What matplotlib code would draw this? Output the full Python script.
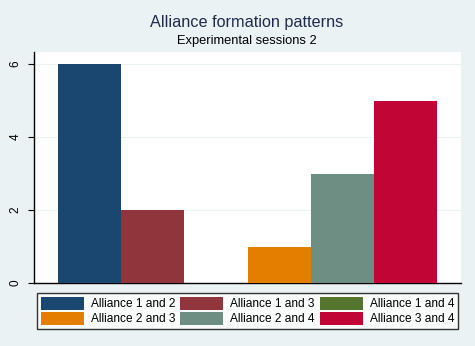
import matplotlib
matplotlib.use("Agg")
import matplotlib.pyplot as plt

plt.rcParams["font.family"] = ["Liberation Sans", "DejaVu Sans"]

BG = "#eaf2f3"

labels = ["Alliance 1 and 2", "Alliance 1 and 3", "Alliance 1 and 4",
          "Alliance 2 and 3", "Alliance 2 and 4", "Alliance 3 and 4"]
counts = [6, 2, 0, 1, 3, 5]
colors = ["#1a476f", "#90353b", "#55752f", "#e37e00", "#6e8e84", "#c10534"]

fig = plt.figure(figsize=(4.75, 3.46), dpi=100)
fig.patch.set_facecolor(BG)
ax = fig.add_axes([34 / 475, 1 - 283 / 346, 427 / 475, 231 / 346])
ax.set_facecolor("white")

handles = []
for i, (lbl, val, col) in enumerate(zip(labels, counts, colors)):
    h = ax.bar(i + 0.5, val, 1.0, color=col, label=lbl, zorder=3)
    handles.append(h)

ax.set_xlim(-0.38, 6.38)
ax.set_ylim(0, 6.33)
ax.set_yticks([0, 2, 4, 6])
ax.set_yticklabels(["0", "2", "4", "6"], rotation=90, va="center", fontsize=8.5)
ax.set_xticks([])
ax.grid(axis="y", color=BG, linewidth=0.8, zorder=0)
ax.tick_params(axis="y", length=4, width=0.8, pad=5)
for s in ["top", "right"]:
    ax.spines[s].set_visible(False)
for s in ["left", "bottom"]:
    ax.spines[s].set_linewidth(1.0)
    ax.spines[s].set_color("black")

fig.text(247 / 475, 1 - 22 / 346, "Alliance formation patterns", ha="center", va="center",
         fontsize=11.7, color="#1e2b4a")
fig.text(247 / 475, 1 - 41 / 346, "Experimental sessions 2", ha="center", va="center",
         fontsize=9.3, color="black")

# row-wise legend order (matplotlib fills columns first)
order = [0, 3, 1, 4, 2, 5]
leg = fig.legend(handles=[handles[k] for k in order], labels=[labels[k] for k in order],
                 ncol=3, loc="lower left",
                 bbox_to_anchor=(37 / 475, 1 - 329 / 346, 421 / 475, 37 / 346),
                 mode="expand", fontsize=8.6, frameon=True, fancybox=False,
                 edgecolor="black", handlelength=3.6, handleheight=1.25,
                 handletextpad=0.6, columnspacing=0.8, labelspacing=0.15,
                 borderpad=0.3, borderaxespad=0)
leg.get_frame().set_linewidth(1.0)
leg.get_frame().set_facecolor("white")

fig.savefig("out.png", dpi=100, facecolor=BG)
